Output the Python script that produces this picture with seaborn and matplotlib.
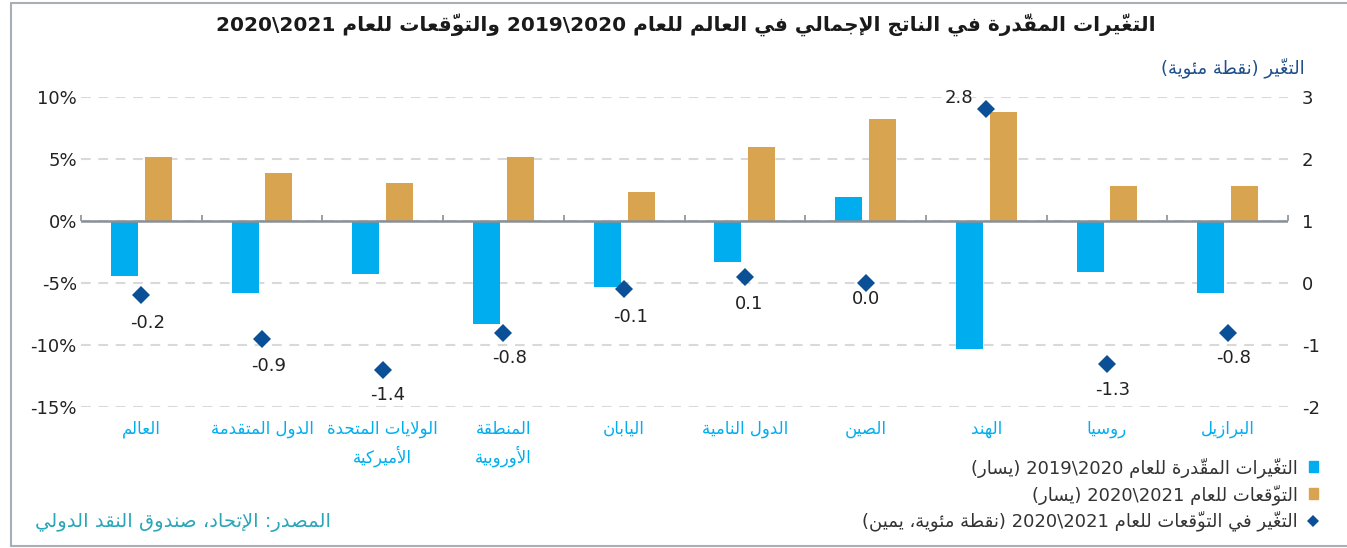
import numpy as np
import pandas as pd
import matplotlib
matplotlib.use("Agg")
import matplotlib.pyplot as plt
from matplotlib.lines import Line2D
from matplotlib.patches import Patch
import seaborn as sns

# ---------------- data ----------------
categories = ["العالم", "الدول المتقدمة", "الولايات المتحدة\nالأميركية", "المنطقة\nالأوروبية",
              "اليابان", "الدول النامية", "الصين", "الهند", "روسيا", "البرازيل"]
est_2020 = [-4.4, -5.8, -4.3, -8.3, -5.3, -3.3, 1.9, -10.3, -4.1, -5.8]
proj_2021 = [5.2, 3.9, 3.1, 5.2, 2.3, 6.0, 8.2, 8.8, 2.8, 2.8]
change_2021 = [-0.2, -0.9, -1.4, -0.8, -0.1, 0.1, 0.0, 2.8, -1.3, -0.8]
left_ticks = [10, 5, 0, -5, -10, -15]
left_tick_labels = ["10%", "5%", "0%", "-5%", "-10%", "-15%"]
right_ticks = [3, 2, 1, 0, -1, -2]

title = "التغيّرات المقدّرة في الناتج الإجمالي في العالم للعام 2020\\2019 والتوقّعات للعام 2021\\2020"
series_names = ["التغيّرات المقدّرة للعام 2020\\2019 (يسار)",
                "التوقّعات للعام 2021\\2020 (يسار)"]
change_name = "التغيّر في التوقّعات للعام 2021\\2020 (نقطة مئوية، يمين)"
right_title = "التغيّر (نقطة مئوية)"
source = "المصدر: الإتحاد، صندوق النقد الدولي"

# label offsets (pixels) for the diamond value labels
label_offsets = [(6, -28), (7, -27), (5, -25), (6, -25), (6, -28),
                 (4, -27), (0, -16), (-27, 11), (6, -26), (6, -25)]

# ---------------- Arabic shaping (presentation forms + visual order) -------------
DUAL = {'ئ': 0xFE89, 'ب': 0xFE8F, 'ت': 0xFE95, 'ث': 0xFE99, 'ج': 0xFE9D, 'ح': 0xFEA1,
        'خ': 0xFEA5, 'س': 0xFEB1, 'ش': 0xFEB5, 'ص': 0xFEB9, 'ض': 0xFEBD, 'ط': 0xFEC1,
        'ظ': 0xFEC5, 'ع': 0xFEC9, 'غ': 0xFECD, 'ف': 0xFED1, 'ق': 0xFED5, 'ك': 0xFED9,
        'ل': 0xFEDD, 'م': 0xFEE1, 'ن': 0xFEE5, 'ه': 0xFEE9, 'ي': 0xFEF1}
RIGHT = {'آ': 0xFE81, 'أ': 0xFE83, 'ؤ': 0xFE85, 'إ': 0xFE87, 'ا': 0xFE8D, 'ة': 0xFE93,
         'د': 0xFEA9, 'ذ': 0xFEAB, 'ر': 0xFEAD, 'ز': 0xFEAF, 'و': 0xFEED, 'ى': 0xFEEF}
NONJ = {'ء': 0xFE80}
LAMALEF = {'آ': 0xFEF5, 'أ': 0xFEF7, 'إ': 0xFEF9, 'ا': 0xFEFB}
MARKS = set(chr(c) for c in range(0x064B, 0x0653)) | {'\u0670'}
MIRROR = {'(': ')', ')': '('}


def shape_line(text):
    chars = list(text)
    units = []
    i = 0
    while i < len(chars):
        c = chars[i]
        if c in MARKS and units:
            units[-1][1] += c
            i += 1
            continue
        if c == 'ل':
            j = i + 1
            marks = ''
            while j < len(chars) and chars[j] in MARKS:
                marks += chars[j]
                j += 1
            if j < len(chars) and chars[j] in LAMALEF:
                units.append([('LA', chars[j]), marks, 'R'])
                i = j + 1
                continue
        kind = 'D' if c in DUAL else 'R' if c in RIGHT else 'U' if c in NONJ else None
        units.append([c, '', kind])
        i += 1
    out = []
    for k, (base, marks, kind) in enumerate(units):
        if kind is None:
            out.append((base, marks, False))
            continue
        prev = units[k - 1][2] if k > 0 else None
        nxt = units[k + 1][2] if k + 1 < len(units) else None
        jp = kind in ('D', 'R') and prev == 'D'
        jn = kind == 'D' and nxt in ('D', 'R')
        if isinstance(base, tuple):
            code = LAMALEF[base[1]] + (1 if jp else 0)
        elif kind == 'U':
            code = NONJ[base]
        elif kind == 'R':
            code = RIGHT[base] + (1 if jp else 0)
        else:
            code = DUAL[base] + (3 if (jp and jn) else 1 if jp else 2 if jn else 0)
        out.append((chr(code), marks, True))
    tokens = []
    for g, marks, ar_ in out:
        if not ar_ and (g.isdigit() or g in '.%') and tokens and tokens[-1][1]:
            tokens[-1][0] += g
        elif not ar_ and g.isdigit():
            tokens.append([g, True])
        else:
            tokens.append([MIRROR.get(g, g) + marks, False])
    return ''.join(t[0] for t in reversed(tokens))


def ar(text):
    return '\n'.join(shape_line(l) for l in text.split('\n'))


# ---------------- style ----------------
sns.set_theme(style="white")
plt.rcParams['font.family'] = ['DejaVu Sans']
plt.rcParams['lines.scale_dashes'] = False
plt.rcParams['axes.unicode_minus'] = False

BLUE = "#00AEEF"
ORANGE = "#D9A44F"
DBLUE = "#0B4F96"
TXT = "#222222"
ZERO = "#8A9096"

W, H = 1347, 548
fig = plt.figure(figsize=(W / 100, H / 100), dpi=100)
ax = fig.add_axes([81 / W, 1 - 407 / H, (1288 - 81) / W, (407 - 97) / H])

df = pd.DataFrame({
    "category": categories * 2,
    "value": est_2020 + proj_2021,
    "series": [series_names[0]] * len(categories) + [series_names[1]] * len(categories),
})
sns.barplot(data=df, x="category", y="value", hue="series", order=categories,
            hue_order=series_names, palette=[BLUE, ORANGE], saturation=1,
            width=0.56, gap=0.2, ax=ax, legend=False, linewidth=0)

ax.set_ylim(-15, 10)
ax.set_yticks(left_ticks)
ax.set_yticklabels(left_tick_labels)
ax.set_axisbelow(True)
ax.yaxis.grid(True, color="#D9D9D9", linestyle=(0, (7, 5.5)), linewidth=1.5)
ax.xaxis.grid(False)
for s in ax.spines.values():
    s.set_visible(False)
ax.tick_params(axis="y", length=0, pad=3, labelsize=13, labelcolor=TXT)
ax.set_xlabel("")
ax.set_ylabel("")
ax.axhline(0, color=ZERO, lw=1.8, zorder=2.5)

ax2 = ax.twinx()
sns.pointplot(x=categories, y=change_2021, order=categories, errorbar=None,
              color=DBLUE, marker="D", linestyle="none", markersize=9,
              markeredgewidth=0, ax=ax2)
ax2.set_ylim(-2, 3)
ax2.set_yticks(right_ticks)
ax2.set_yticklabels([str(t) for t in right_ticks])
ax2.tick_params(axis="y", length=0, pad=10, labelsize=13, labelcolor=TXT)
for s in ax2.spines.values():
    s.set_visible(False)
ax2.set_ylabel("")
ax2.grid(False)

for i, v in enumerate(change_2021):
    dx, dy = label_offsets[i]
    ax2.annotate(f"{v:.1f}", (i, v), xytext=(dx, dy), textcoords="offset pixels",
                 ha="center", va="center", fontsize=13, color=TXT)

# category labels
ax.set_xlim(-0.5, len(categories) - 0.5)
ax.set_xticks(range(len(categories)))
ax.set_xticklabels([ar(c) for c in categories])
ax.tick_params(axis="x", length=0, pad=9, labelsize=12, labelcolor=BLUE)
for t in ax.get_xticklabels():
    t.set_multialignment("center")
    t.set_linespacing(1.45)

# category boundary ticks on the zero line
zero = ax.secondary_xaxis(0, transform=ax.transData)
zero.spines["bottom"].set_visible(False)
zero.set_xticks(np.arange(len(categories) + 1) - 0.5)
zero.set_xticklabels([])
zero.tick_params(axis="x", direction="in", length=4, width=1.2, color=ZERO)

# titles and source
fig.text(686 / W, 1 - 25 / H, ar(title), ha="center", va="center", fontsize=14.5,
         fontweight="bold", color="#1A1A1A")
fig.text(1305 / W, 1 - 68 / H, ar(right_title), ha="right", va="center", fontsize=13,
         color="#1F4E8C")
fig.text(35 / W, 1 - 523 / H, ar(source), ha="left", va="center", fontsize=14,
         color="#2AA6B8")

# legend
handles = [Patch(color=BLUE), Patch(color=ORANGE),
           Line2D([], [], marker="D", linestyle="none", color=DBLUE, markersize=6,
                  markeredgewidth=0)]
fig.legend(handles, [ar(series_names[0]), ar(series_names[1]), ar(change_name)],
           loc="upper right", bbox_to_anchor=(1327 / W, 1 - 448 / H), frameon=False,
           markerfirst=False, fontsize=13, handlelength=0.5, handleheight=0.5,
           handletextpad=0.6, labelspacing=0.35, borderpad=0, labelcolor="#333333")

# frame
fc = "#A7AFB7"
fig.add_artist(Line2D([11 / W, 1], [1 - 3 / H, 1 - 3 / H], color=fc, lw=1.5))
fig.add_artist(Line2D([11 / W, 11 / W], [2 / H, 1 - 3 / H], color=fc, lw=1.5))
fig.add_artist(Line2D([11 / W, 1], [2 / H, 2 / H], color=fc, lw=1.5))

fig.savefig("out.png", dpi=100)
